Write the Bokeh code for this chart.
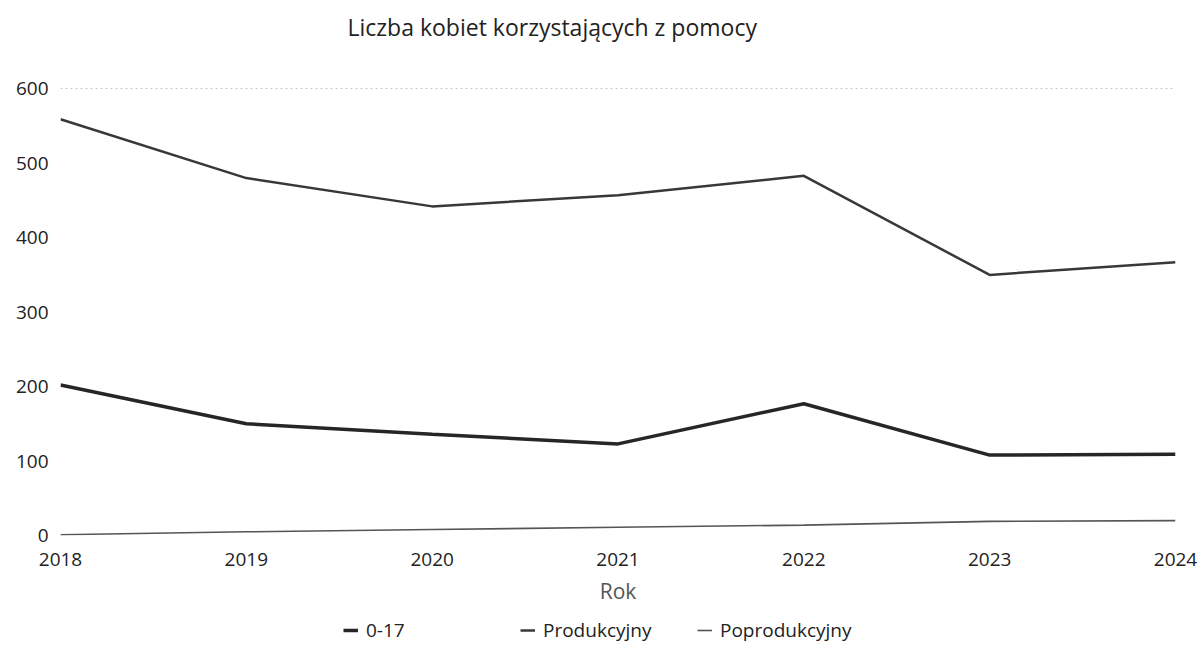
from bokeh.plotting import figure
from bokeh.models import Legend, LegendItem, Range1d, FixedTicker
from bokeh.layouts import column
from bokeh.embed import file_html
from bokeh.resources import INLINE

years = [2018, 2019, 2020, 2021, 2022, 2023, 2024]
age_0_17 = [202, 150, 136, 123, 177, 108, 109]
produkcyjny = [559, 480, 442, 457, 483, 350, 367]
poprodukcyjny = [1, 5, 8, 11, 14, 19, 20]
y_ticks = [0, 100, 200, 300, 400, 500, 600]
series_names = ["0-17", "Produkcyjny", "Poprodukcyjny"]
series_values = [age_0_17, produkcyjny, poprodukcyjny]

FONT = "Open Sans"
STYLES = [dict(line_color="#262626", line_width=3.5),
          dict(line_color="#383838", line_width=2.5),
          dict(line_color="#555555", line_width=1.6)]

p = figure(width=1200, height=616, output_backend="svg", toolbar_location=None,
           x_range=Range1d(2018, 2024), y_range=Range1d(0, 650),
           min_border_left=60, min_border_right=25, min_border_top=49,
           min_border_bottom=81)
p.outline_line_color = None

p.title.text = "Liczba kobiet korzystających z pomocy"
p.title.text_font = FONT
p.title.text_font_size = "23px"
p.title.text_font_style = "normal"
p.title.text_color = "#222222"
p.title.align = "left"
p.title.offset = 287
p.title.standoff = 17

for ys, st in zip(series_values, STYLES):
    p.line(years, ys, **st)

p.xgrid.grid_line_color = None
p.ygrid.ticker = FixedTicker(ticks=[600])
p.ygrid.grid_line_color = "#c8c8c8"
p.ygrid.grid_line_dash = "2 3"
p.ygrid.grid_line_width = 1

p.xaxis.ticker = FixedTicker(ticks=years)
p.yaxis.ticker = FixedTicker(ticks=y_ticks)
for ax in (p.xaxis, p.yaxis):
    ax.axis_line_color = None
    ax.major_tick_line_color = None
    ax.minor_tick_line_color = None
    ax.major_tick_out = 0
    ax.major_tick_in = 0
    ax.major_label_text_font = FONT
    ax.major_label_text_font_size = "19px"
    ax.major_label_text_color = "#222222"
p.yaxis.major_label_standoff = 12
p.xaxis.major_label_standoff = 17
p.xaxis.axis_label = "Rok"
p.xaxis.axis_label_text_font = FONT
p.xaxis.axis_label_text_font_size = "21px"
p.xaxis.axis_label_text_font_style = "normal"
p.xaxis.axis_label_text_color = "#555555"
p.xaxis.axis_label_standoff = 8

# legend strip below the chart (its lines lie outside its view; only the legend shows)
lg = figure(width=1200, height=28, output_backend="svg", toolbar_location=None,
            x_range=Range1d(0, 1), y_range=Range1d(0, 1),
            x_axis_location=None, y_axis_location=None,
            min_border=0)
lg.outline_line_color = None
lg.xgrid.grid_line_color = None
lg.ygrid.grid_line_color = None
items = []
for name, ys, st in zip(series_names, series_values, STYLES):
    r = lg.line(years, ys, **st)
    items.append(LegendItem(label=name, renderers=[r]))
legend = Legend(items=items, orientation="horizontal", location=(283, 1))
legend.border_line_color = None
legend.background_fill_alpha = 0
legend.glyph_width = 15
legend.glyph_height = 12
legend.label_standoff = 8
legend.label_width = 154
legend.spacing = 0
legend.padding = 0
legend.margin = 0
legend.label_text_font = FONT
legend.label_text_font_size = "19px"
legend.label_text_color = "#222222"
lg.add_layout(legend)

layout = column(p, lg, spacing=0)
open("out.html", "w").write(file_html(layout, INLINE))
